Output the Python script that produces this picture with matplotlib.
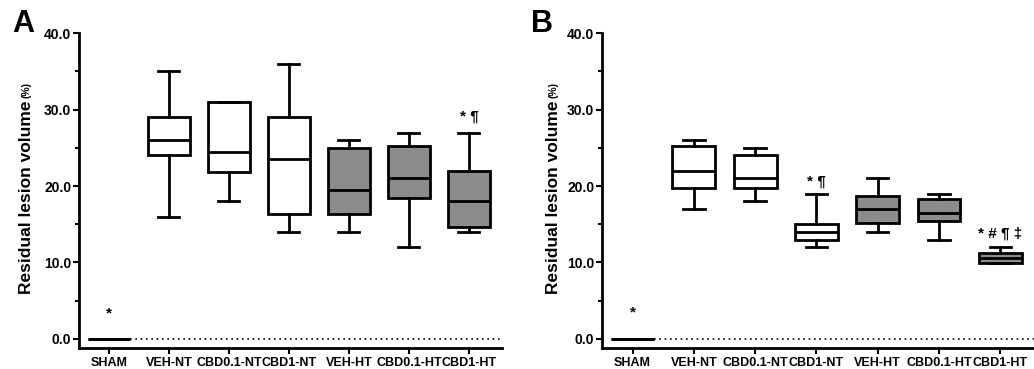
import matplotlib
matplotlib.use("Agg")
import matplotlib.pyplot as plt
from matplotlib.ticker import MultipleLocator, FormatStrFormatter

plt.rcParams['font.family'] = ['Liberation Sans', 'DejaVu Sans']

groups = ['SHAM', 'VEH-NT', 'CBD0.1-NT', 'CBD1-NT', 'VEH-HT', 'CBD0.1-HT', 'CBD1-HT']
hypothermia = [False, False, False, False, True, True, True]

# panel A: whisker low, q1, median, q3, whisker high
a_low = [0, 16, 18, 14, 14, 12, 14]
a_q1 = [0, 24, 21.8, 16.3, 16.3, 18.5, 14.7]
a_med = [0, 26, 24.5, 23.5, 19.5, 21, 18]
a_q3 = [0, 29, 31, 29, 25, 25.3, 22]
a_high = [0, 35, 31, 36, 26, 27, 27]
a_marks = {0: '*', 6: '* ¶'}
a_mark_y = {0: 3.3, 6: 29.1}

# panel B
b_low = [0, 17, 18, 12, 14, 13, 9.9]
b_q1 = [0, 19.7, 19.7, 13, 15.2, 15.4, 9.9]
b_med = [0, 22, 21, 14, 17, 16.5, 10.6]
b_q3 = [0, 25.3, 24, 15, 18.7, 18.3, 11.2]
b_high = [0, 26, 25, 19, 21, 19, 12]
b_marks = {0: '*', 3: '* ¶', 6: '* # ¶ ‡'}
b_mark_y = {0: 3.4, 3: 20.6, 6: 13.8}


def draw_panel(ax, low, q1, med, q3, high, marks, mark_y, letter, label_x, letter_x):
	stats = []
	for i in range(len(groups)):
		stats.append({'whislo': low[i], 'q1': q1[i], 'med': med[i],
					'q3': q3[i], 'whishi': high[i], 'fliers': []})
	bp = ax.bxp(stats, positions=range(len(groups)), widths=0.7,
				patch_artist=True, showfliers=False,
				boxprops=dict(linewidth=2, edgecolor='black'),
				medianprops=dict(color='black', linewidth=2),
				whiskerprops=dict(color='black', linewidth=2),
				capprops=dict(color='black', linewidth=2),
				capwidths=0.35)
	for box, ht in zip(bp['boxes'], hypothermia):
		box.set_facecolor('#8c8c8c' if ht else 'white')

	ax.hlines(0, 0.35, 6.6, colors='black', linestyles=(0, (1, 2.2)), linewidth=1.2, zorder=1)

	for i, txt in marks.items():
		ax.text(i, mark_y[i], txt, ha='center', va='center', fontsize=11, fontweight='bold')

	ax.set_xlim(-0.5, 6.55)
	ax.set_ylim(-1.2, 40)
	ax.set_xticks(range(len(groups)))
	ax.set_xticklabels(groups, fontsize=9, fontweight='bold')
	ax.yaxis.set_major_locator(MultipleLocator(10))
	ax.yaxis.set_minor_locator(MultipleLocator(5))
	ax.yaxis.set_major_formatter(FormatStrFormatter('%.1f'))
	for lab in ax.get_yticklabels():
		lab.set_fontweight('bold')
		lab.set_fontsize(10)
	ax.tick_params(which='major', length=4, width=1.5, pad=1.5)
	ax.tick_params(which='minor', length=3, width=1.5)
	ax.tick_params(axis='x', pad=2.5)
	ax.spines['top'].set_visible(False)
	ax.spines['right'].set_visible(False)
	ax.spines['left'].set_linewidth(2)
	ax.spines['bottom'].set_linewidth(2)
	ax.spines['left'].set_bounds(-1.2, 40)

	ax.text(label_x, 0.48, 'Residual lesion volume', transform=ax.transAxes,
			rotation=90, ha='center', va='center', fontsize=12.5, fontweight='bold')
	ax.text(label_x, 0.82, '(%)', transform=ax.transAxes,
			rotation=90, ha='center', va='center', fontsize=7.5, fontweight='bold')
	ax.text(letter_x, 1.03, letter, transform=ax.transAxes,
			ha='center', va='center', fontsize=22, fontweight='bold')


fig = plt.figure(figsize=(10.34, 3.69), dpi=100)
ax_a = fig.add_axes([0.0764, 0.0569, 0.409, 0.853])
ax_b = fig.add_axes([0.5822, 0.0569, 0.4178, 0.853])

draw_panel(ax_a, a_low, a_q1, a_med, a_q3, a_high, a_marks, a_mark_y, 'A', -0.123, -0.132)
draw_panel(ax_b, b_low, b_q1, b_med, b_q3, b_high, b_marks, b_mark_y, 'B', -0.113, -0.139)

fig.savefig('out.png', dpi=100)
